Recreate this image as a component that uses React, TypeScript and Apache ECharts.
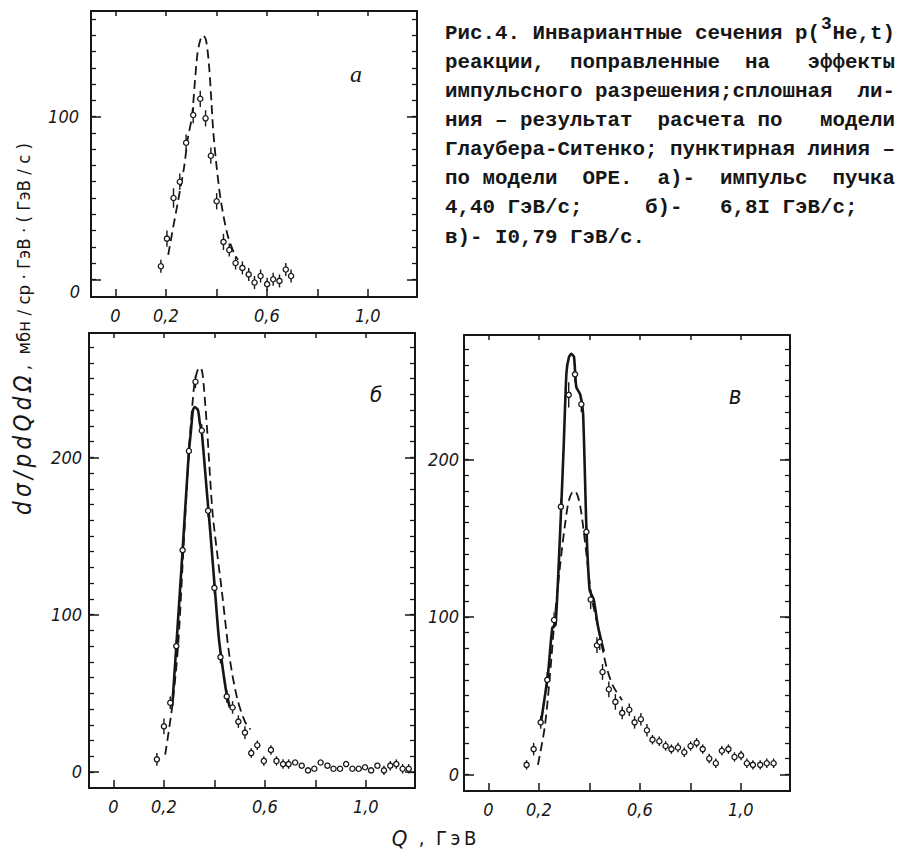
import React, { useEffect, useRef } from "react";
import * as echarts from "echarts";

// ---------- Panel а : 4,40 ГэВ/с ----------
const qA = [0.180, 0.204, 0.230, 0.255, 0.280, 0.308, 0.336, 0.357, 0.378, 0.401, 0.428, 0.451, 0.476, 0.503, 0.528, 0.551, 0.575, 0.601, 0.625, 0.650, 0.675, 0.696];
const sA = [8, 25, 50, 60, 84, 101, 111, 99, 76, 48, 23, 18, 10, 7, 3, -2, 2, -3, 0, -1, 6, 2];
const eA = [4, 5, 6, 5, 5, 5, 5, 5, 5, 5, 5, 4, 4, 4, 4, 4, 4, 4, 4, 4, 4, 4];
const qDashA = [0.209, 0.224, 0.249, 0.272, 0.286, 0.303, 0.314, 0.325, 0.336, 0.347, 0.359, 0.371, 0.380, 0.388, 0.401, 0.417, 0.443, 0.470, 0.486];
const sDashA = [15, 28, 49, 69, 86, 100, 120, 139, 147, 150, 147, 131, 110, 90, 69, 49, 28, 16, 12];

// ---------- Panel б : 6,81 ГэВ/с ----------
const qB = [0.172, 0.200, 0.225, 0.249, 0.274, 0.299, 0.325, 0.350, 0.375, 0.400, 0.424, 0.449, 0.472, 0.495, 0.521, 0.546, 0.570, 0.596, 0.624, 0.646, 0.672, 0.694, 0.720, 0.746, 0.771, 0.796, 0.821, 0.848, 0.872, 0.898, 0.922, 0.947, 0.972, 0.997, 1.021, 1.046, 1.072, 1.097, 1.121, 1.146, 1.170];
const sB = [8, 29, 44, 80, 141, 204, 248, 217, 166, 117, 73, 48, 41, 32, 25, 12, 17, 7, 14, 7, 5, 5, 6, 4, 1, 2, 6, 4, 2, 2, 5, 2, 2, 3, 1, 4, 1, 4, 5, 2, 2];
const eB = [4, 5, 4, 4, 4, 4, 4, 4, 4, 4, 4, 4, 4, 4, 4, 3, 3, 3, 3, 3, 3, 3, 0.8, 0.8, 0.8, 0.8, 0.8, 0.8, 0.8, 0.8, 0.8, 0.8, 0.8, 0.8, 0.8, 0.8, 3, 3, 3, 3, 3];
const qDashB = [0.205, 0.233, 0.256, 0.277, 0.299, 0.313, 0.322, 0.335, 0.344, 0.352, 0.358, 0.371, 0.392, 0.411, 0.428, 0.461, 0.490, 0.521, 0.543];
const sDashB = [11, 42, 80, 141, 204, 234, 248, 256, 257, 254, 245, 218, 166, 139, 117, 72, 47, 32, 27];
const qSolidB = [0.233, 0.249, 0.274, 0.299, 0.306, 0.315, 0.322, 0.335, 0.342, 0.350, 0.368, 0.384, 0.401, 0.417, 0.432, 0.448, 0.461];
const sSolidB = [42, 80, 141, 204, 215, 230, 232, 230, 222, 216, 182, 152, 118, 86, 67, 50, 41];

// ---------- Panel в : 10,79 ГэВ/с ----------
const qC = [0.151, 0.179, 0.207, 0.233, 0.260, 0.287, 0.318, 0.343, 0.368, 0.388, 0.405, 0.430, 0.441, 0.452, 0.477, 0.503, 0.530, 0.558, 0.579, 0.604, 0.628, 0.650, 0.677, 0.702, 0.725, 0.751, 0.776, 0.801, 0.825, 0.849, 0.875, 0.901, 0.925, 0.951, 0.975, 1.001, 1.024, 1.048, 1.077, 1.103, 1.130];
const sC = [6, 16, 33, 60, 98, 170, 241, 254, 235, 154, 111, 82, 84, 65, 54, 46, 39, 41, 33, 35, 28, 22, 21, 18, 16, 17, 14, 18, 20, 16, 10, 7, 15, 16, 11, 12, 7, 6, 6, 7, 7];
const eC = [3, 4, 4, 5, 5, 5, 8, 5, 5, 5, 6, 5, 5, 5, 5, 5, 4, 4, 4, 4, 4, 3, 3, 3, 3, 3, 3, 3, 3, 3, 3, 3, 3, 3, 3, 3, 3, 3, 3, 3, 3];
const qDashC = [0.196, 0.223, 0.242, 0.262, 0.282, 0.302, 0.319, 0.338, 0.351, 0.364, 0.377, 0.391, 0.408, 0.428, 0.448, 0.468, 0.494, 0.530];
const sDashC = [6, 30, 60, 98, 130, 157, 174, 180, 178, 170, 155, 136, 113, 98, 83, 68, 56, 47];
const qSolidC = [0.209, 0.236, 0.253, 0.266, 0.286, 0.298, 0.309, 0.319, 0.328, 0.339, 0.348, 0.364, 0.375, 0.388, 0.401, 0.417, 0.434, 0.457];
const sSolidC = [34, 64, 93, 95, 161, 208, 255, 265, 267, 265, 246, 241, 229, 157, 117, 111, 94, 78];

// ---------- Axis ticks / labels ----------
const xTickValues = [0, 0.2, 0.4, 0.6, 0.8, 1.0];
const xLabelValues = [0, 0.2, 0.6, 1.0];
const yLabelsA = [100];
const yLabelsBC = [0, 100, 200];
const yMajorA = [0, 100];
const yMajorBC = [0, 100, 200];
const yMinorA = [0, 10, 20, 30, 40, 50, 60, 70, 80, 90, 100, 110, 120, 130, 140, 150, 160];
const yMinorBC = [0, 10, 20, 30, 40, 50, 60, 70, 80, 90, 100, 110, 120, 130, 140, 150, 160, 170, 180, 190, 200, 210, 220, 230, 240, 250, 260, 270];

// caption, typewriter columns (36 per line)
const captionHead = "Рис.4. Инвариантные сечения p(";
const captionSup = "3";
const captionHeadTail = "He,t)";
const captionLines = [
  "реакции,  поправленные  на   эффекты",
  "импульсного разрешения;сплошная  ли-",
  "ния – результат  расчета по   модели",
  "Глаубера-Ситенко; пунктирная линия –",
  "по модели  ОРЕ.  а)-  импульс  пучка",
  "4,40 ГэВ/с;     б)-   6,8I ГэВ/с;",
  "в)- I0,79 ГэВ/с.",
];

const INK = "#161616";
const COND = '"DejaVu Sans Condensed", "DejaVu Sans", sans-serif';
const X_MIN = -0.097;
const X_MAX = 1.195;
const TS = "\u2009";

const zip = (xs: number[], ys: number[]) => xs.map((x, k) => [x, ys[k]]);
const zip3 = (xs: number[], ys: number[], es: number[]) => xs.map((x, k) => [x, ys[k], es[k]]);
const fmtQ = (v: number) => (v === 0 ? "0" : v.toFixed(1).replace(".", ","));

const panels = [
  {
    grid: { left: 91, top: 11, width: 326, height: 286 },
    yMin: -10.9, yMax: 165, yLabels: yLabelsA, yMajor: yMajorA, yMinor: yMinorA, labelMargin: 12,
    pts: zip3(qA, sA, eA), dash: zip(qDashA, sDashA), solid: null as number[][] | null,
  },
  {
    grid: { left: 89, top: 333, width: 326, height: 455 },
    yMin: -10.2, yMax: 279, yLabels: yLabelsBC, yMajor: yMajorBC, yMinor: yMinorBC, labelMargin: 7,
    pts: zip3(qB, sB, eB), dash: zip(qDashB, sDashB), solid: zip(qSolidB, sSolidB),
  },
  {
    grid: { left: 464, top: 335, width: 326, height: 456 },
    yMin: -10.6, yMax: 279, yLabels: yLabelsBC, yMajor: yMajorBC, yMinor: yMinorBC, labelMargin: 5,
    pts: zip3(qC, sC, eC), dash: zip(qDashC, sDashC), solid: zip(qSolidC, sSolidC),
  },
];

function buildOption() {
  const tickFont = { fontFamily: COND, fontStyle: "italic", fontSize: 18, color: INK };
  const axisLine = { show: true, onZero: false, lineStyle: { color: INK, width: 2 } };
  const grids: any[] = [];
  const xAxes: any[] = [];
  const yAxes: any[] = [];
  const series: any[] = [];

  panels.forEach((p, i) => {
    grids.push({ ...p.grid, containLabel: false });
    xAxes.push({
      gridIndex: i, type: "value", position: "bottom", min: X_MIN, max: X_MAX,
      axisLine,
      axisTick: { show: true, inside: true, length: 8, customValues: xTickValues, lineStyle: { color: INK, width: 1.5 } },
      axisLabel: { show: true, customValues: xLabelValues, formatter: fmtQ, margin: 9, ...tickFont },
      splitLine: { show: false },
    });
    xAxes.push({
      gridIndex: i, type: "value", position: "top", min: X_MIN, max: X_MAX,
      axisLine,
      axisTick: { show: true, inside: true, length: 5, customValues: xTickValues, lineStyle: { color: INK, width: 1.5 } },
      axisLabel: { show: false },
      splitLine: { show: false },
    });
    const yBase = { gridIndex: i, type: "value", min: p.yMin, max: p.yMax, splitLine: { show: false } };
    yAxes.push({
      ...yBase, position: "left", axisLine,
      axisTick: { show: true, inside: true, length: 5, customValues: p.yMinor, lineStyle: { color: INK, width: 1.3 } },
      axisLabel: { show: true, customValues: p.yLabels, margin: p.labelMargin, formatter: (v: number) => String(v), ...tickFont },
    });
    yAxes.push({
      ...yBase, position: "right", axisLine,
      axisTick: { show: true, inside: true, length: 5, customValues: p.yMinor, lineStyle: { color: INK, width: 1.3 } },
      axisLabel: { show: false },
    });
    yAxes.push({
      ...yBase, position: "left", axisLine: { show: false, onZero: false },
      axisTick: { show: true, inside: true, length: 10, customValues: p.yMajor, lineStyle: { color: INK, width: 1.5 } },
      axisLabel: { show: false },
    });
    yAxes.push({
      ...yBase, position: "right", axisLine: { show: false, onZero: false },
      axisTick: { show: true, inside: true, length: 10, customValues: p.yMajor, lineStyle: { color: INK, width: 1.5 } },
      axisLabel: { show: false },
    });

    series.push({
      type: "line", xAxisIndex: 2 * i, yAxisIndex: 4 * i, data: p.dash,
      showSymbol: false, symbol: "none", smooth: 0.3, silent: true, z: 2,
      lineStyle: { color: INK, width: 1.8, type: [9, 5] },
    });
    if (p.solid) {
      series.push({
        type: "line", xAxisIndex: 2 * i, yAxisIndex: 4 * i, data: p.solid,
        showSymbol: false, symbol: "none", smooth: 0.2, silent: true, z: 2,
        lineStyle: { color: INK, width: 2.6 },
      });
    }
    series.push({
      type: "custom", xAxisIndex: 2 * i, yAxisIndex: 4 * i, data: p.pts, z: 3, silent: true,
      renderItem: (_params: any, api: any) => {
        const x = api.value(0);
        const y = api.value(1);
        const e = api.value(2);
        const c = api.coord([x, y]);
        const lo = api.coord([x, y - e]);
        const hi = api.coord([x, y + e]);
        return {
          type: "group",
          children: [
            { type: "line", shape: { x1: c[0], y1: lo[1], x2: c[0], y2: hi[1] }, style: { stroke: INK, lineWidth: 1.4 } },
            { type: "circle", shape: { cx: c[0], cy: c[1], r: 2.6 }, style: { fill: "#fff", stroke: INK, lineWidth: 1.3 } },
          ],
        };
      },
    });
  });

  const COL = 12.5;
  const CAP_X = 445;
  const capFont = { fontFamily: '"Liberation Mono", "DejaVu Sans Mono", monospace', fontSize: 20.83, fontWeight: "bold", fill: INK };
  const graphic: any[] = [];
  graphic.push({ type: "text", x: CAP_X, y: 33.3, style: { text: captionHead, ...capFont, align: "left", verticalAlign: "middle" } });
  graphic.push({ type: "text", x: CAP_X + 30 * COL + 1, y: 24, style: { text: captionSup, ...capFont, fontSize: 18, align: "left", verticalAlign: "middle" } });
  graphic.push({ type: "text", x: CAP_X + 31 * COL, y: 33.3, style: { text: captionHeadTail, ...capFont, align: "left", verticalAlign: "middle" } });
  captionLines.forEach((t, k) => {
    graphic.push({
      type: "text", x: CAP_X, y: 33.3 + 29.1 * (k + 1),
      style: { text: t, ...capFont, align: "left", verticalAlign: "middle" },
    });
  });
  // panel letters
  graphic.push({ type: "text", x: 356, y: 74, style: { text: "а", fontFamily: '"Liberation Serif", serif', fontStyle: "italic", fontSize: 24, fill: INK, align: "center", verticalAlign: "middle" } });
  graphic.push({ type: "text", x: 376, y: 394, style: { text: "б", fontFamily: COND, fontStyle: "italic", fontSize: 22, fill: INK, align: "center", verticalAlign: "middle" } });
  graphic.push({ type: "text", x: 735, y: 396, style: { text: "в", fontFamily: COND, fontStyle: "italic", fontSize: 24, fill: INK, align: "center", verticalAlign: "middle" } });
  // panel a "0" label (printed slightly below its tick in the original)
  graphic.push({ type: "text", x: 80, y: 291, style: { text: "0", fontFamily: COND, fontStyle: "italic", fontSize: 18, fill: INK, align: "right", verticalAlign: "middle" } });
  // y title
  const mathY = ["d", "σ", "/", "p", "d", "Q", "d", "Ω"].join(TS);
  graphic.push({
    type: "text", x: 23, y: 329, rotation: Math.PI / 2,
    style: {
      text: "{m|" + mathY + "}{s| ,  мбн / ср · ГэВ · ( ГэВ / с )}",
      align: "center", verticalAlign: "middle", fill: INK,
      rich: {
        m: { fontFamily: COND, fontStyle: "italic", fontSize: 24, fill: INK },
        s: { fontFamily: COND, fontSize: 18.5, fill: INK },
      },
    },
  });
  // x title
  graphic.push({
    type: "text", x: 434, y: 838,
    style: {
      text: "{m|Q}{s|  ,  " + ["Г", "э", "В"].join(TS) + "}",
      align: "center", verticalAlign: "middle", fill: INK,
      rich: {
        m: { fontFamily: COND, fontStyle: "italic", fontSize: 22, fill: INK },
        s: { fontFamily: COND, fontSize: 20, fill: INK },
      },
    },
  });

  return {
    animation: false,
    backgroundColor: "#ffffff",
    grid: grids,
    xAxis: xAxes,
    yAxis: yAxes,
    series,
    graphic,
  };
}

export default function App() {
  const ref = useRef<HTMLDivElement>(null);
  useEffect(() => {
    if (!ref.current) return;
    const chart = echarts.init(ref.current, null, { renderer: "svg" });
    chart.setOption(buildOption() as any);
    return () => chart.dispose();
  }, []);
  return (
    <div
      ref={ref}
      style={{ position: "absolute", left: 0, top: 0, width: 898, height: 850, background: "#fff" }}
    />
  );
}
